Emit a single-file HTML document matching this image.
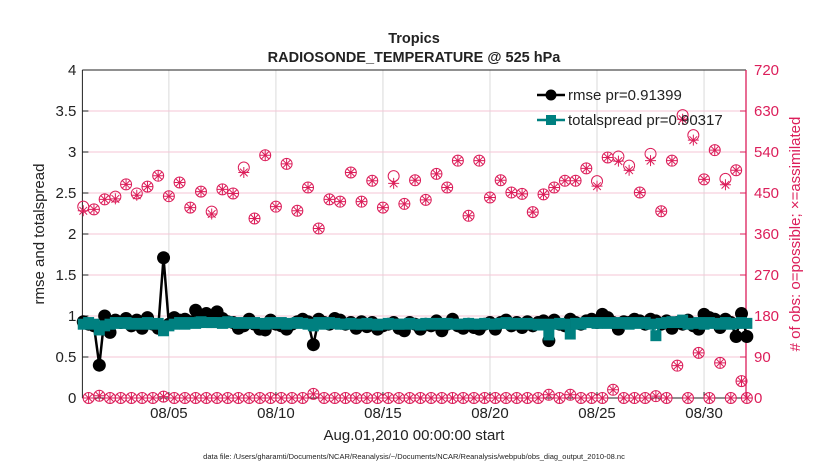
<!DOCTYPE html>
<html><head><meta charset="utf-8"><style>
html,body{margin:0;padding:0;background:#fff;}
svg{display:block;font-family:"Liberation Sans",Arial,sans-serif;}
</style></head><body>
<svg id="chart" width="830" height="470" viewBox="0 0 830 470">
<rect width="830" height="470" fill="#fff"/>
<text x="414" y="43" text-anchor="middle" font-size="14.5" font-weight="bold" fill="#222">Tropics</text>
<text x="414" y="62" text-anchor="middle" font-size="14.5" font-weight="bold" fill="#222">RADIOSONDE_TEMPERATURE @ 525 hPa</text>
<g id="grid"></g>
<g id="axes"></g>
<g id="obs"></g>
<g id="lines"></g>
<text transform="translate(44,234) rotate(-90)" text-anchor="middle" font-size="15" fill="#222">rmse and totalspread</text>
<text transform="translate(800,234) rotate(-90)" text-anchor="middle" font-size="15" fill="#dc1e5a"># of obs: o=possible; ×=assimilated</text>
<text x="414" y="440" text-anchor="middle" font-size="15" fill="#222">Aug.01,2010 00:00:00 start</text>
<text x="414" y="459" text-anchor="middle" font-size="7.5" fill="#222">data file: /Users/gharamti/Documents/NCAR/Reanalysis/~/Documents/NCAR/Reanalysis/webpub/obs_diag_output_2010-08.nc</text>
<g id="legend">
<line x1="537" y1="95" x2="565" y2="95" stroke="#000" stroke-width="2.5"/>
<circle cx="551" cy="95" r="5.5" fill="#000"/>
<text x="568" y="100" font-size="15" fill="#222">rmse pr=0.91399</text>
<line x1="537" y1="120" x2="565" y2="120" stroke="#008080" stroke-width="2.5"/>
<rect x="546" y="115" width="10" height="10" fill="#008080"/>
<text x="568" y="125" font-size="15" fill="#222">totalspread pr=0.90317</text>
</g>
</svg>
<script>
// 6-hourly values, Aug 1 00Z .. Sep 1 00Z
const rmse = [0.93,0.90,0.88,0.40,1.00,0.80,0.95,0.92,0.97,0.88,
0.95,0.85,0.98,0.90,0.85,1.71,0.90,0.98,0.95,0.96,
0.93,1.07,1.00,1.03,0.98,1.05,0.97,0.93,0.92,0.85,
0.88,0.96,0.90,0.84,0.83,0.95,0.90,0.88,0.84,0.90,
0.93,0.96,0.93,0.65,0.96,0.92,0.90,0.97,0.95,0.90,
0.92,0.85,0.93,0.87,0.92,0.84,0.88,0.90,0.92,0.85,
0.82,0.92,0.90,0.84,0.90,0.88,0.94,0.82,0.90,0.96,
0.88,0.85,0.90,0.86,0.84,0.90,0.92,0.84,0.92,0.95,
0.88,0.92,0.86,0.93,0.88,0.92,0.94,0.70,0.95,0.90,
0.88,0.96,0.92,0.90,0.94,0.96,0.92,1.02,0.98,0.92,
0.84,0.93,0.92,0.96,0.94,0.90,0.96,0.94,0.90,0.94,
0.85,0.92,0.90,0.95,0.88,0.84,1.02,0.98,0.96,0.86,
0.96,0.92,0.75,1.03,0.75];
const spread = [0.90,0.92,0.90,0.83,0.88,0.90,0.92,0.91,0.92,0.90,
0.91,0.90,0.92,0.90,0.91,0.82,0.88,0.90,0.92,0.90,
0.92,0.91,0.93,0.92,0.92,0.92,0.91,0.93,0.92,0.91,
0.92,0.91,0.92,0.91,0.90,0.92,0.91,0.92,0.90,0.91,
0.92,0.91,0.90,0.88,0.92,0.90,0.92,0.91,0.90,0.90,
0.91,0.90,0.90,0.91,0.90,0.89,0.90,0.91,0.90,0.90,
0.90,0.91,0.90,0.89,0.91,0.90,0.91,0.90,0.91,0.90,
0.90,0.90,0.91,0.90,0.90,0.91,0.90,0.90,0.91,0.92,
0.90,0.91,0.90,0.91,0.90,0.89,0.90,0.77,0.90,0.91,
0.90,0.78,0.91,0.90,0.92,0.92,0.91,0.92,0.91,0.92,
0.91,0.92,0.90,0.92,0.91,0.92,0.90,0.76,0.91,0.92,
0.93,0.92,0.95,0.90,0.91,0.92,0.90,0.92,0.91,0.90,
0.92,0.90,0.91,0.92,0.91];
// 00Z/12Z obs counts (every 12 h)
const possMain = [420,414,436,442,469,449,464,488,443,473,418,453,409,458,449,506,394,533,420,514,
411,462,372,436,431,495,431,477,418,487,426,478,435,492,462,521,400,521,440,478,
451,448,408,447,462,477,477,504,476,528,530,510,451,536,410,521,621,577,480,544,481,500];
const usedMain = [411,414,436,437,469,445,464,488,443,473,418,453,404,458,449,495,394,533,420,514,
411,462,372,436,431,495,431,477,418,471,426,478,435,492,462,521,400,521,440,478,
451,448,408,447,462,477,477,504,465,528,520,500,451,521,410,521,612,566,480,544,468,500];
// 06Z/18Z obs counts
const possOff = [0,5,0,0,0,0,0,3,0,0,0,0,0,0,0,0,0,0,0,0,0,9,0,0,0,0,0,0,0,0,
0,0,0,0,0,0,0,0,0,0,0,0,0,7,0,7,0,0,0,18,0,0,0,4,0,71,0,99,0,77,0,37];
const usedOff = possOff.slice();
const yTicksL = ["0","0.5","1","1.5","2","2.5","3","3.5","4"];
const yTicksR = ["0","90","180","270","360","450","540","630","720"];
const xTickDays = [4,9,14,19,24,29];
const xTickLabels = ["08/05","08/10","08/15","08/20","08/25","08/30"];

const NS="http://www.w3.org/2000/svg";
const L=82.4,R=746,T=70,B=398;
const D0=-0.04,D1=30.96;
const xs=d=>L+(d-D0)/(D1-D0)*(R-L);
const yL=v=>B-v/4*(B-T);
const yR=v=>B-v/720*(B-T);
const MAG="#dc1e5a";
function mk(tag,attrs,parent){const e=document.createElementNS(NS,tag);for(const k in attrs)e.setAttribute(k,attrs[k]);parent.appendChild(e);return e;}
const grid=document.getElementById('grid'),axes=document.getElementById('axes'),obs=document.getElementById('obs'),lines=document.getElementById('lines');

xTickDays.forEach((d,i)=>{
  const g=mk('line',{x1:xs(d),x2:xs(d),y1:T,y2:B,stroke:"#dadada","stroke-width":1},grid);
  
  
  mk('line',{x1:xs(d),x2:xs(d),y1:B,y2:B-6,stroke:"#222"},axes);
  const t=mk('text',{x:xs(d),y:B+20,"text-anchor":"middle","font-size":15,fill:"#222"},axes);
  t.textContent=xTickLabels[i];
  
  
});
yTicksL.forEach((lab,i)=>{
  const y=yL(parseFloat(lab));
  if(i>0&&i<yTicksL.length-1){const g=mk('line',{x1:L,x2:R,y1:y,y2:y,stroke:"#f4c6d6","stroke-width":1},grid);
  
  }
  mk('line',{x1:L,x2:L+6,y1:y,y2:y,stroke:"#222"},axes);
  const t=mk('text',{x:L-6,y:y+5,"text-anchor":"end","font-size":15,fill:"#222"},axes);
  t.textContent=lab;
  
  
});
yTicksR.forEach(lab=>{
  const y=yR(parseFloat(lab));
  mk('line',{x1:R,x2:R-6,y1:y,y2:y,stroke:MAG},axes);
  const t=mk('text',{x:R+8,y:y+5,"font-size":15,fill:MAG},axes);
  t.textContent=lab;
  
  
});
mk('line',{x1:L,x2:R,y1:T,y2:T,stroke:"#222"},axes);
mk('line',{x1:L,x2:R,y1:B,y2:B,stroke:"#222"},axes);
mk('line',{x1:L,x2:L,y1:T,y2:B,stroke:"#222"},axes);
mk('line',{x1:R,x2:R,y1:T,y2:B,stroke:MAG,"stroke-width":1.3},axes);

function drawObs(day,p,u){
  const x=xs(day);
  const c=mk('circle',{cx:x,cy:yR(p),r:5.5,fill:"none",stroke:MAG,"stroke-width":1},obs);
  
  
  const y=yR(u),a=5.5,b=a*0.7;
  const s=mk('path',{d:`M${x-a} ${y}H${x+a}M${x} ${y-a}V${y+a}M${x-b} ${y-b}L${x+b} ${y+b}M${x-b} ${y+b}L${x+b} ${y-b}`,stroke:MAG,"stroke-width":1,fill:"none"},obs);
  
  
}
possMain.forEach((p,i)=>drawObs(i*0.5,p,usedMain[i]));
possOff.forEach((p,i)=>drawObs(i*0.5+0.25,p,usedOff[i]));
drawObs(31,0,0);

function series(vals,color,name,marker){
  const pts=vals.map((v,i)=>[xs(i*0.25),yL(v)]);
  const pl=mk('polyline',{points:pts.map(p=>p.join(',')).join(' '),fill:"none",stroke:color,"stroke-width":2.5},lines);
  
  
  pts.forEach(p=>{
    let m;
    if(marker==='c')m=mk('circle',{cx:p[0],cy:p[1],r:6.5,fill:color},lines);
    else m=mk('rect',{x:p[0]-5.5,y:p[1]-5.5,width:11,height:11,fill:color},lines);
    
    
  });
}
series(rmse,"#000","rmse",'c');
series(spread,"#008080","totalspread",'s');
</script>
</body></html>
